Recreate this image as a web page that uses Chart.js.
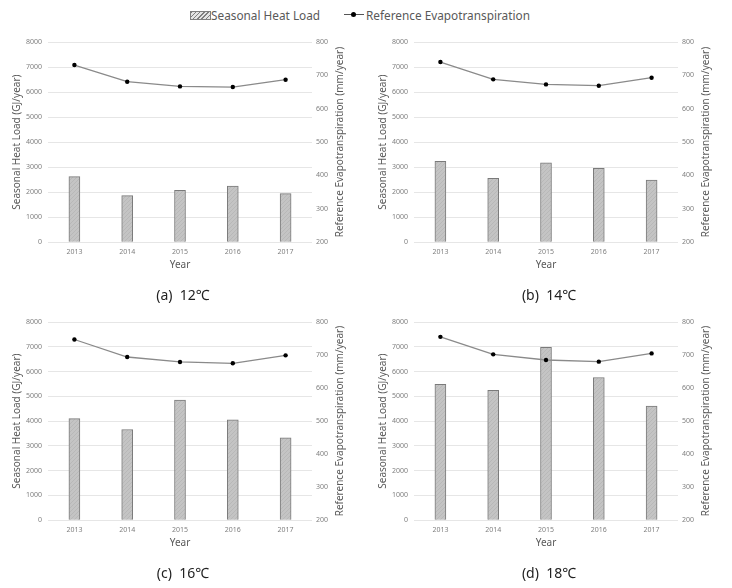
<!DOCTYPE html>
<html>
<head>
<meta charset="utf-8">
<script src="https://cdn.jsdelivr.net/npm/chart.js@4"></script>
<style>
  body { margin: 0; background: #fff; width: 732px; height: 588px; position: relative; overflow: hidden; font-family: "Noto Sans", sans-serif; }
  .panel { position: absolute; width: 366px; height: 280px; }
  .legend { position: absolute; top: 6px; font-size: 11.8px; color: #595959; line-height: 18px; }
  .hatch { position: absolute; left: 190px; top: 11px; width: 19px; height: 7px; border: 1px solid #7f7f7f;
           background: repeating-linear-gradient(135deg, #7f7f7f 0 1px, #e4e4e4 1px 3px); }
  .lineicon { position: absolute; left: 344px; top: 14px; width: 20px; height: 0; border-top: 1.3px solid #555; }
  .dot { position: absolute; left: 351px; top: 12px; width: 5px; height: 5px; border-radius: 50%; background: #000; }
</style>
</head>
<body>
<div class="hatch"></div>
<div class="legend" style="left:211px">Seasonal Heat Load</div>
<div class="lineicon"></div>
<div class="dot"></div>
<div class="legend" style="left:366px">Reference Evapotranspiration</div>

<div class="panel" style="left:0; top:30px"><canvas id="c12" width="366" height="280"></canvas></div>
<div class="panel" style="left:366px; top:30px"><canvas id="c14" width="366" height="280"></canvas></div>
<div class="panel" style="left:0; top:310px"><canvas id="c16" width="366" height="278"></canvas></div>
<div class="panel" style="left:366px; top:310px"><canvas id="c18" width="366" height="278"></canvas></div>

<script>
// data
const years = ["2013", "2014", "2015", "2016", "2017"];
const heat12 = [2620, 1860, 2070, 2240, 1940];
const heat14 = [3230, 2550, 3170, 2950, 2480];
const heat16 = [4100, 3660, 4850, 4050, 3320];
const heat18 = [5480, 5240, 6980, 5760, 4610];
const et12 = [731, 681, 667, 665, 687];
const et14 = [740, 688, 673, 669, 693];
const et16 = [747, 694, 679, 675, 699];
const et18 = [755, 702, 685, 680, 705];
const captions = ["(a)  12℃", "(b)  14℃", "(c)  16℃", "(d)  18℃"];
const heatTitle = "Seasonal Heat Load (GJ/year)";
const etTitle = "Reference Evapotranspiration (mm/year)";
const xTitle = "Year";

const FONT = '"Noto Sans", "Noto Sans CJK KR", sans-serif';

function hatchPattern(ctx) {
  const c = document.createElement("canvas");
  c.width = 4; c.height = 4;
  const g = c.getContext("2d");
  g.fillStyle = "#c4c4c4";
  g.fillRect(0, 0, 4, 4);
  g.fillStyle = "#b8b8b8";
  for (let i = 0; i < 4; i++) g.fillRect(i, 3 - i, 1, 1);
  return ctx.createPattern(c, "repeat");
}

// right axis title reads bottom-to-top like the left one
const rightTitle = {
  id: "rightTitle",
  afterDraw(chart) {
    const { ctx, chartArea } = chart;
    const s = chart.scales.y2;
    ctx.save();
    ctx.translate(s.right - 26, (chartArea.top + chartArea.bottom) / 2);
    ctx.rotate(-Math.PI / 2);
    ctx.font = "10px " + FONT;
    ctx.fillStyle = "#595959";
    ctx.textAlign = "center";
    ctx.textBaseline = "middle";
    ctx.fillText(etTitle, 0, 0);
    ctx.restore();
  },
};

const plain = (v) => String(v);

function makeChart(id, heat, et, caption) {
  const ctx = document.getElementById(id).getContext("2d");
  new Chart(ctx, {
    type: "bar",
    data: {
      labels: years,
      datasets: [
        {
          type: "line",
          label: "Reference Evapotranspiration",
          data: et,
          yAxisID: "y2",
          borderColor: "#8a8a8a",
          borderWidth: 1.3,
          pointBackgroundColor: "#000",
          pointBorderWidth: 0,
          pointRadius: 2.2,
          tension: 0,
          order: 0,
        },
        {
          label: "Seasonal Heat Load",
          data: heat,
          yAxisID: "y",
          backgroundColor: hatchPattern(ctx),
          borderColor: "#7a7a7a",
          borderWidth: 1,
          barThickness: 11,
          order: 1,
        },
      ],
    },
    options: {
      responsive: false,
      animation: false,
      layout: { padding: { top: 12, right: 0, left: 0, bottom: 0 } },
      plugins: {
        legend: { display: false },
        tooltip: { enabled: false },
        title: {
          display: true,
          position: "bottom",
          text: caption,
          color: "#222",
          font: { family: FONT, size: 14, weight: "normal" },
          padding: { top: 12, bottom: 6 },
        },
      },
      scales: {
        x: {
          grid: { display: false, drawTicks: false },
          border: { display: false },
          ticks: { color: "#7f7f7f", font: { family: FONT, size: 7 }, padding: 6 },
          title: { display: true, text: xTitle, color: "#595959", font: { family: FONT, size: 10 }, padding: { top: 2, bottom: 4 } },
          afterFit(s) { s.height = 33; },
        },
        y: {
          position: "left",
          min: 0,
          max: 8000,
          ticks: { stepSize: 1000, color: "#7f7f7f", font: { family: FONT, size: 7 }, padding: 6, callback: plain },
          grid: { color: "#e6e6e6", drawTicks: false },
          border: { display: false },
          title: { display: true, text: heatTitle, color: "#595959", font: { family: FONT, size: 10 }, padding: { top: 11, bottom: 0 } },
          afterFit(s) { s.width = 48; },
        },
        y2: {
          position: "right",
          min: 200,
          max: 800,
          ticks: { stepSize: 100, color: "#7f7f7f", font: { family: FONT, size: 7 }, padding: 4, callback: plain },
          grid: { drawOnChartArea: false, drawTicks: false },
          border: { display: false },
          afterFit(s) { s.width = 54; },
        },
      },
    },
    plugins: [rightTitle],
  });
}

makeChart("c12", heat12, et12, captions[0]);
makeChart("c14", heat14, et14, captions[1]);
makeChart("c16", heat16, et16, captions[2]);
makeChart("c18", heat18, et18, captions[3]);
</script>
</body>
</html>
